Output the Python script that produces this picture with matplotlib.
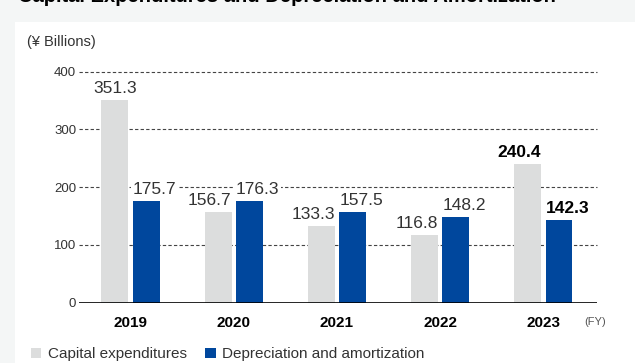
import matplotlib.pyplot as plt
import numpy as np
from matplotlib.patches import Patch, Rectangle

plt.rcParams['font.family'] = ['Liberation Sans', 'DejaVu Sans']

years = ['2019', '2020', '2021', '2022', '2023']
capex = [351.3, 156.7, 133.3, 116.8, 240.4]
depreciation = [175.7, 176.3, 157.5, 148.2, 142.3]
series_names = ['Capital expenditures', 'Depreciation and amortization']
yticks = [0, 100, 200, 300, 400]

grey = '#dcdddd'
blue = '#00479d'
text_col = '#333333'

fig = plt.figure(figsize=(6.35, 3.63), dpi=100, facecolor='#f4f6f6')
# white card behind the chart
fig.patches.append(Rectangle((15 / 635, 0), 1, 1 - 22 / 363, transform=fig.transFigure,
                             facecolor='white', edgecolor='none', zorder=-5))
# heading sits mostly above the canvas edge
fig.text(18 / 635, 1 - 2 / 363, 'Capital Expenditures and Depreciation and Amortization',
         fontsize=14.5, fontweight='bold', color='black', va='baseline', ha='left')

ax = fig.add_axes([79 / 635, 1 - 302.5 / 363, 518 / 635, 231 / 363])
ax.set_facecolor('none')
ax.set_zorder(2)

x = np.arange(len(years))
w = 0.26
off = 0.152
ax.bar(x - off, capex, w, color=grey, zorder=3)
ax.bar(x + off, depreciation, w, color=blue, zorder=3)

ax.set_xlim(-0.5, 4.52)
ax.set_ylim(0, 400)
ax.set_yticks(yticks)
ax.set_yticklabels([str(v) for v in yticks])
for v in yticks[1:]:
    ax.axhline(v, color='#444444', lw=0.8, linestyle=(0, (3, 2)), zorder=1, clip_on=False)
ax.axhline(0, color='black', lw=1.2, zorder=4)

for s in ax.spines.values():
    s.set_visible(False)
ax.tick_params(axis='y', length=0, pad=2, labelsize=9.5, labelcolor=text_col)
ax.tick_params(axis='x', length=0, pad=10, labelsize=11)
ax.set_xticks(x)
ax.set_xticklabels(years, fontweight='bold', color='black')

# value labels; last year is emphasised
capex_ha = ['center', 'right', 'right', 'right', 'right']
for i in range(len(years)):
    last = i == len(years) - 1
    kw = dict(fontsize=12.5, fontweight='bold' if last else 'normal',
              color='black' if last else text_col, va='baseline', textcoords='offset points',
              bbox=dict(facecolor='white', edgecolor='none', pad=1.2), zorder=5)
    cx = x[i] - off + (w / 2 if capex_ha[i] == 'right' else 0)
    ax.annotate(f'{capex[i]:.1f}', (cx, capex[i]), xytext=(0, 5), ha=capex_ha[i], **kw)
    ax.annotate(f'{depreciation[i]:.1f}', (x[i] + off - w / 2, depreciation[i]),
                xytext=(0, 5), ha='left', **kw)

fig.text(27 / 635, 1 - 42 / 363, '(¥ Billions)', fontsize=10.5, color=text_col, va='center')
fig.text(584 / 635, 1 - 322 / 363, '(FY)', fontsize=8, color='#555555', va='center')

handles = [Patch(facecolor=grey), Patch(facecolor=blue)]
fig.legend(handles, series_names, loc='lower left', bbox_to_anchor=(20 / 635, -0.025),
           ncol=2, frameon=False, fontsize=11, labelcolor=text_col, handlelength=0.7,
           handleheight=0.7, handletextpad=0.4, columnspacing=1.2, borderpad=0.2)

fig.savefig('out.png', dpi=100, facecolor=fig.get_facecolor())
